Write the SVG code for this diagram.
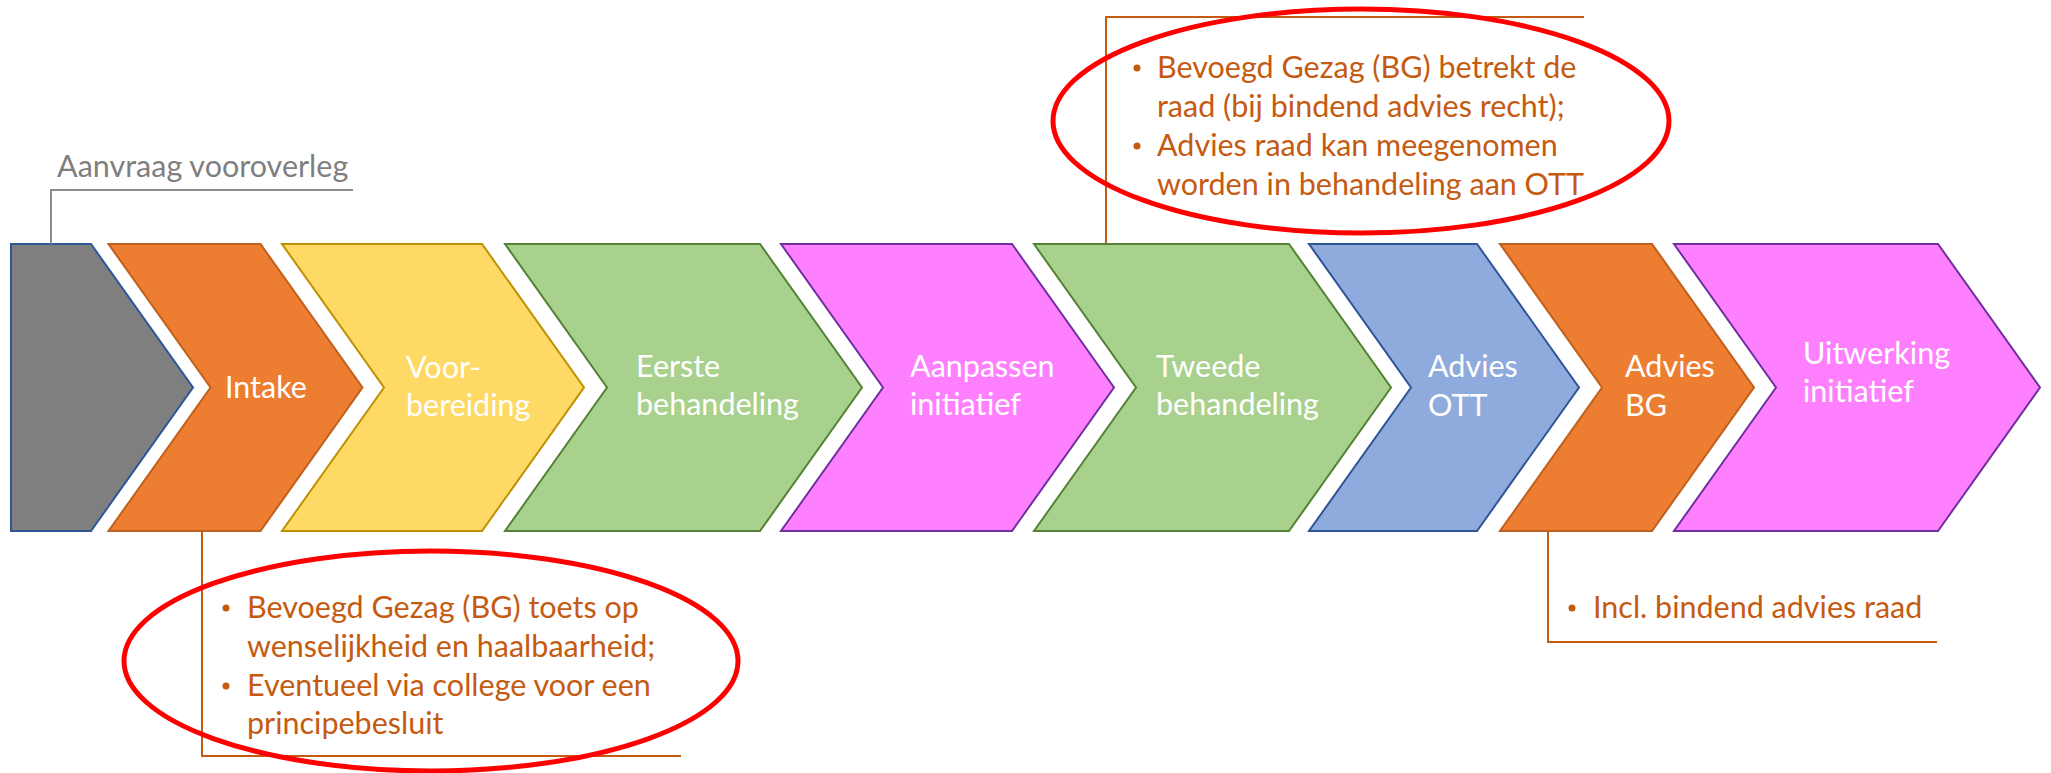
<svg xmlns="http://www.w3.org/2000/svg" width="2051" height="773" viewBox="0 0 2051 773">
<style>
.chev{stroke-width:2;stroke-linejoin:miter}
.gray{fill:#7f7f7f;stroke:#2f5597}
.orange{fill:#ed7d31;stroke:#c0601e}
.yellow{fill:#ffd966;stroke:#bf9000}
.green{fill:#a9d18e;stroke:#548235}
.pink{fill:#ff80ff;stroke:#7030a0}
.blue{fill:#8faadc;stroke:#2f5597}
.lbl{font-family:Lato,"Liberation Sans",sans-serif;font-size:30.5px;fill:#ffffff}
.note{font-family:Lato,"Liberation Sans",sans-serif;font-size:30.5px;fill:#c55a11}
.gnote{font-family:Lato,"Liberation Sans",sans-serif;font-size:30.5px;fill:#7f7f7f}
.ln{fill:none;stroke:#c55a11;stroke-width:2}
.gln{fill:none;stroke:#8c8c8c;stroke-width:2}
.ring{fill:none;stroke:#ff0000;stroke-width:5}
</style>
<g id="nodes">
<g id="n0"><polygon class="chev gray" points="11,244 91,244 193,387.5 91,531 11,531"/></g>
<g id="n1"><polygon class="chev orange" points="108.5,244 260.5,244 362.5,387.5 260.5,531 108.5,531 210.5,387.5"/><text class="lbl" x="225" y="398">Intake</text></g>
<g id="n2"><polygon class="chev yellow" points="282,244 482,244 584,387.5 482,531 282,531 384,387.5"/><text class="lbl" x="406" y="378">Voor-</text><text class="lbl" x="406" y="416">bereiding</text></g>
<g id="n3"><polygon class="chev green" points="505,244 760,244 862,387.5 760,531 505,531 607,387.5"/><text class="lbl" x="636" y="377">Eerste</text><text class="lbl" x="636" y="415">behandeling</text></g>
<g id="n4"><polygon class="chev pink" points="781,244 1012,244 1114,387.5 1012,531 781,531 883,387.5"/><text class="lbl" x="910" y="377">Aanpassen</text><text class="lbl" x="910" y="415">initiatief</text></g>
<g id="n5"><polygon class="chev green" points="1034,244 1289,244 1391,387.5 1289,531 1034,531 1136,387.5"/><text class="lbl" x="1156" y="377">Tweede</text><text class="lbl" x="1156" y="415">behandeling</text></g>
<g id="n6"><polygon class="chev blue" points="1309,244 1477,244 1579,387.5 1477,531 1309,531 1411,387.5"/><text class="lbl" x="1428" y="377">Advies</text><text class="lbl" x="1428" y="416">OTT</text></g>
<g id="n7"><polygon class="chev orange" points="1500,244 1652,244 1754,387.5 1652,531 1500,531 1602,387.5"/><text class="lbl" x="1625" y="377">Advies</text><text class="lbl" x="1625" y="416">BG</text></g>
<g id="n8"><polygon class="chev pink" points="1674,244 1938,244 2040,387.5 1938,531 1674,531 1776,387.5"/><text class="lbl" x="1803" y="364">Uitwerking</text><text class="lbl" x="1803" y="402">initiatief</text></g>
</g>
<g id="connectors">
<polyline class="gln" points="51,244 51,190 353,190"/>
<polyline class="ln" points="202,532 202,756 681,756"/>
<polyline class="ln" points="1106,243 1106,17 1584,17"/>
<polyline class="ln" points="1548,532 1548,642 1937,642"/>
</g>
<g id="callout-vooroverleg"><text class="gnote" x="57" y="177">Aanvraag vooroverleg</text></g>
<g id="callout-intake">
<circle cx="226" cy="608" r="3.5" fill="#c55a11"/><text class="note" x="247" y="618">Bevoegd Gezag (BG) toets op</text>
<text class="note" x="247" y="657">wenselijkheid en haalbaarheid;</text>
<circle cx="226" cy="686" r="3.5" fill="#c55a11"/><text class="note" x="247" y="696">Eventueel via college voor een</text>
<text class="note" x="247" y="734">principebesluit</text>
</g>
<g id="callout-tweede">
<circle cx="1137" cy="68" r="3.5" fill="#c55a11"/><text class="note" x="1157" y="78">Bevoegd Gezag (BG) betrekt de</text>
<text class="note" x="1157" y="117">raad (bij bindend advies recht);</text>
<circle cx="1137" cy="146" r="3.5" fill="#c55a11"/><text class="note" x="1157" y="156">Advies raad kan meegenomen</text>
<text class="note" x="1157" y="195">worden in behandeling aan OTT</text>
</g>
<g id="callout-bg">
<circle cx="1572" cy="608" r="3.5" fill="#c55a11"/><text class="note" x="1593" y="618">Incl. bindend advies raad</text>
</g>
<g id="highlights">
<ellipse class="ring" cx="431" cy="661" rx="307" ry="110"/>
<ellipse class="ring" cx="1361" cy="121" rx="308" ry="112"/>
</g>
</svg>
